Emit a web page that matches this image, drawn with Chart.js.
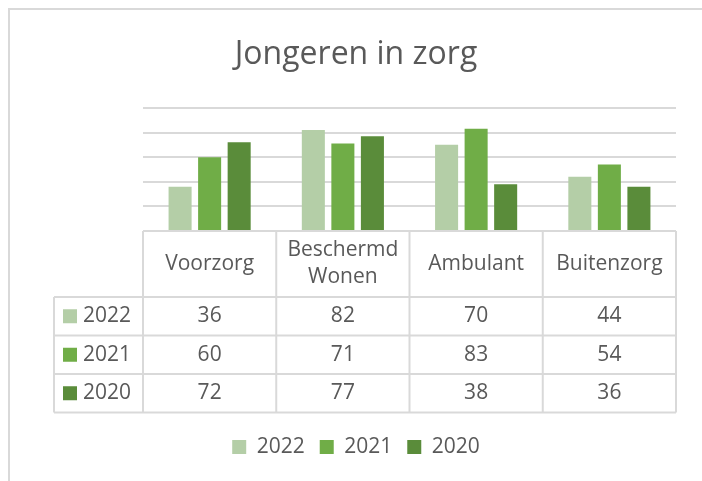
<!DOCTYPE html>
<html>
<head>
<meta charset="utf-8">
<script src="https://cdn.jsdelivr.net/npm/chart.js@4/dist/chart.umd.min.js"></script>
<style>
  html, body { margin: 0; padding: 0; background: #fff; }
  canvas { display: block; }
</style>
</head>
<body>
<canvas id="zorgChart" width="702" height="481"></canvas>
<script>
// data
const categories = ['Voorzorg', ['Beschermd', 'Wonen'], 'Ambulant', 'Buitenzorg'];
const years = ['2022', '2021', '2020'];
const values2022 = [36, 82, 70, 44];
const values2021 = [60, 71, 83, 54];
const values2020 = [72, 77, 38, 36];
const yTicks = [0, 20, 40, 60, 80, 100];

const colors = ['#b4cea7', '#70ad47', '#5a8c3a'];
const textColor = '#595959';
const lineColor = '#d9d9d9';
const fontFamily = '"Open Sans", "Noto Sans", sans-serif';

// draws the frame and the data table under the plot
const dataTable = {
  id: 'dataTable',
  beforeDraw(chart) {
    const ctx = chart.ctx;
    ctx.save();
    ctx.strokeStyle = lineColor;
    ctx.lineWidth = 2;
    ctx.strokeRect(9, 9, chart.width + 20, chart.height + 20);
    ctx.restore();
  },
  afterDraw(chart) {
    const { ctx, chartArea } = chart;
    const xs = chart.scales.x;
    const sets = chart.data.datasets;
    const n = chart.data.labels.length;
    const colW = (xs.right - xs.left) / n;
    const top = chartArea.bottom;
    const headH = 66, rowH = 38.5, labelLeft = 54;
    const rowsTop = top + headH;
    const bottom = rowsTop + rowH * sets.length;

    ctx.save();
    ctx.strokeStyle = lineColor;
    ctx.lineWidth = 2;
    ctx.beginPath();
    ctx.moveTo(xs.left, top);
    ctx.lineTo(xs.right, top);
    for (let r = 0; r <= sets.length; r++) {
      const y = rowsTop + r * rowH;
      ctx.moveTo(labelLeft, y);
      ctx.lineTo(xs.right, y);
    }
    for (let c = 0; c <= n; c++) {
      const x = xs.left + c * colW;
      ctx.moveTo(x, top);
      ctx.lineTo(x, bottom);
    }
    ctx.moveTo(labelLeft, rowsTop);
    ctx.lineTo(labelLeft, bottom);
    ctx.stroke();

    ctx.fillStyle = textColor;
    ctx.font = '21px ' + fontFamily;
    ctx.textAlign = 'center';
    ctx.textBaseline = 'middle';
    chart.data.labels.forEach((lab, c) => {
      const lines = Array.isArray(lab) ? lab : [lab];
      const cx = xs.left + c * colW + colW / 2;
      lines.forEach((t, j) => {
        ctx.fillText(t, cx, top + headH / 2 + (j - (lines.length - 1) / 2) * 27);
      });
    });
    sets.forEach((ds, r) => {
      const cy = rowsTop + r * rowH + rowH / 2;
      ds.data.forEach((v, c) => {
        ctx.fillText(String(v), xs.left + c * colW + colW / 2, cy);
      });
      ctx.fillStyle = ds.backgroundColor;
      ctx.fillRect(63, cy - 7, 14, 14);
      ctx.fillStyle = textColor;
      ctx.textAlign = 'left';
      ctx.fillText(ds.label, 83, cy);
      ctx.textAlign = 'center';
    });
    ctx.restore();
  }
};

const seriesValues = [values2022, values2021, values2020];

new Chart(document.getElementById('zorgChart'), {
  type: 'bar',
  data: {
    labels: categories,
    datasets: years.map((y, i) => ({
      label: y,
      data: seriesValues[i],
      backgroundColor: colors[i],
      borderWidth: 0,
      categoryPercentage: 0.665,
      barPercentage: 0.78
    }))
  },
  options: {
    responsive: false,
    animation: false,
    layout: { padding: { left: 10, right: 0, top: 0, bottom: 13.5 } },
    plugins: {
      title: {
        display: true,
        text: 'Jongeren in zorg',
        color: textColor,
        font: { family: fontFamily, size: 32, weight: 'normal' },
        padding: { top: 35.5, bottom: 34 }
      },
      legend: {
        position: 'bottom',
        labels: {
          color: textColor,
          font: { family: fontFamily, size: 21 },
          boxWidth: 14,
          boxHeight: 14,
          padding: 15
        }
      },
      tooltip: { enabled: false }
    },
    scales: {
      x: {
        ticks: { display: false },
        grid: { display: false },
        border: { display: false },
        afterFit(scale) { scale.height = 190.5; }
      },
      y: {
        min: yTicks[0],
        max: yTicks[yTicks.length - 1],
        afterBuildTicks(scale) { scale.ticks = yTicks.map(v => ({ value: v })); },
        ticks: { display: false },
        grid: { color: lineColor, lineWidth: 2, drawTicks: false },
        border: { display: false },
        afterFit(scale) { scale.width = 133; }
      },
      yRight: {
        position: 'right',
        ticks: { display: false },
        grid: { display: false },
        border: { display: false },
        afterFit(scale) { scale.width = 26; }
      }
    }
  },
  plugins: [dataTable]
});
</script>
</body>
</html>
